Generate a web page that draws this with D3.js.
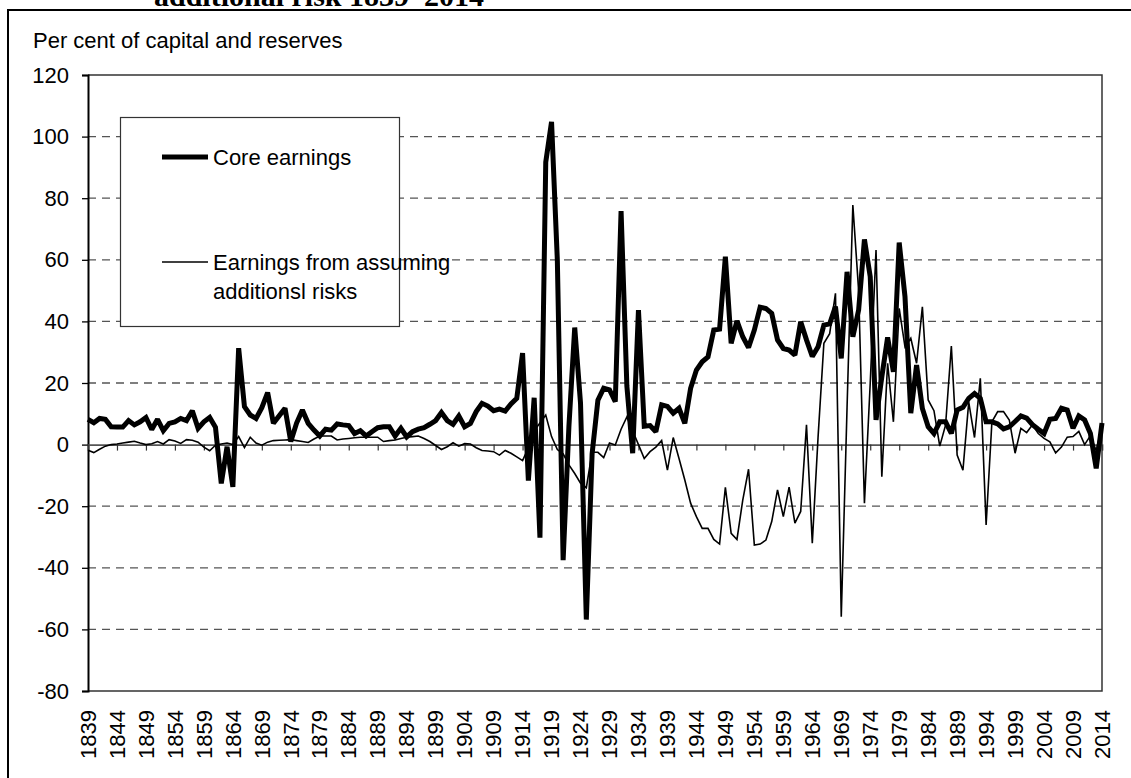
<!DOCTYPE html>
<html>
<head>
<meta charset="utf-8">
<script src="https://cdn.jsdelivr.net/npm/d3@7/dist/d3.min.js"></script>
<style>
  html, body { margin: 0; padding: 0; background: #fff; }
  svg { display: block; }
  text { font-family: "Liberation Sans", Arial, sans-serif; fill: #000; }
</style>
</head>
<body>
<svg id="chart" width="1131" height="778"></svg>
<script>
// ---- Data ----
const firstYear = 1839;
const lastYear = 2014;
const years = d3.range(firstYear, lastYear + 1);

// Core earnings, per cent of capital and reserves (1839 ... 2014)
const coreEarnings = [
  8.2, 7.1, 8.5, 8.2, 5.8, 5.7, 5.7, 7.8, 6.4, 7.4,        // 1839-1848
  8.8, 4.9, 8.2, 4.5, 6.9, 7.4, 8.5, 7.8, 11.0, 5.3,       // 1849-1858
  7.4, 8.8, 5.6, -12.6, -0.7, -13.7, 31.3, 12.3, 9.6, 8.5, // 1859-1868
  12.0, 16.9, 6.9, 9.4, 11.8, 1.0, 7.0, 11.2, 6.9, 4.7,    // 1869-1878
  2.8, 5.0, 4.7, 6.7, 6.4, 6.2, 3.6, 4.5, 2.8, 4.2,        // 1879-1888
  5.5, 5.8, 5.8, 2.8, 5.3, 2.5, 4.2, 5.0, 5.5, 6.6,        // 1889-1898
  7.8, 10.4, 7.8, 6.6, 9.3, 5.8, 6.9, 10.7, 13.4, 12.5,    // 1899-1908
  11.0, 11.5, 10.9, 13.2, 15.0, 29.7, -11.7, 15.2, -30.2, 91.7, // 1909-1918
  104.8, 59.9, -37.5, 6.0, 38.0, 13.5, -56.8, -3.0, 14.4, 18.3, // 1919-1928
  17.8, 13.9, 75.8, 19.0, -2.8, 43.7, 6.0, 6.2, 4.2, 12.9, // 1929-1938
  12.4, 10.2, 11.8, 6.9, 18.3, 24.2, 26.9, 28.5, 37.2, 37.5, // 1939-1948
  61.0, 32.9, 40.2, 35.0, 31.5, 37.2, 44.6, 44.2, 42.6, 34.0, // 1949-1958
  31.2, 30.7, 29.1, 39.9, 34.0, 28.6, 31.8, 38.8, 39.2, 44.8, // 1959-1968
  28.0, 56.1, 35.0, 43.7, 66.6, 54.5, 8.0, 22.0, 34.8, 23.6,  // 1969-1978
  65.6, 48.0, 10.2, 25.8, 11.7, 5.8, 3.6, 7.4, 7.4, 3.6,   // 1979-1988
  11.2, 12.1, 15.0, 16.6, 15.0, 7.4, 7.4, 6.7, 5.1, 5.8,   // 1989-1998
  7.5, 9.3, 8.6, 6.5, 5.0, 3.6, 8.2, 8.5, 11.8, 11.2,      // 1999-2008
  5.3, 9.3, 8.0, 3.6, -7.7, 7.0                            // 2009-2014
];

// Earnings from assuming additional risks (1839 ... 2014)
const riskEarnings = [
  -1.8, -2.6, -1.5, -0.5, 0.0, 0.2, 0.5, 0.8, 1.1, 0.5,    // 1839-1848
  0.0, 0.3, 1.0, 0.2, 1.6, 1.2, 0.4, 1.6, 1.4, 0.8,        // 1849-1858
  -0.8, -2.0, -0.2, 0.2, 0.5, 0.0, 2.6, -1.0, 2.4, 0.5,    // 1859-1868
  -0.2, 0.8, 1.3, 1.4, 1.5, 1.6, 1.3, 1.0, 0.7, 1.8,       // 1869-1878
  2.8, 2.8, 2.8, 1.5, 1.8, 2.0, 2.2, 2.4, 2.4, 2.4,        // 1879-1888
  2.4, 1.0, 1.3, 1.5, 2.0, 2.4, 2.6, 2.8, 2.0, 1.0,        // 1889-1898
  -0.3, -1.6, -0.7, 0.6, -0.5, 0.3, 0.2, -1.0, -1.9, -2.1, // 1899-1908
  -2.3, -3.4, -1.9, -2.8, -4.0, -5.2, -1.0, 4.5, 7.0, 9.6, // 1909-1918
  2.6, -1.6, -3.0, -6.6, -9.4, -12.5, -14.0, -2.5, -2.5, -4.2, // 1919-1928
  0.5, -0.1, 5.0, 9.0, 4.5, 0.0, -4.5, -2.3, -0.8, 1.3,    // 1929-1938
  -8.3, 2.3, -4.5, -11.5, -19.0, -23.4, -27.2, -27.2, -30.8, -32.3, // 1939-1948
  -13.9, -28.8, -30.8, -18.0, -8.0, -32.6, -32.3, -31.0, -25.0, -14.7, // 1949-1958
  -23.4, -13.8, -25.5, -21.7, 6.4, -32.0, 2.5, 32.9, 36.0, 49.1, // 1959-1968
  -55.9, 12.0, 77.8, 50.0, -19.0, 20.0, 63.2, -10.4, 26.4, 7.4, // 1969-1978
  44.2, 31.7, 34.5, 26.4, 44.7, 14.5, 11.0, -0.5, 6.3, 32.0, // 1979-1988
  -3.4, -8.3, 13.8, 2.3, 21.5, -26.1, 7.4, 10.7, 10.7, 8.0, // 1989-1998
  -2.8, 5.3, 3.9, 6.4, 3.6, 2.0, 0.9, -2.7, -0.8, 2.4,     // 1999-2008
  2.6, 4.3, 0.0, 2.9, -2.0, 6.0                            // 2009-2014
];

const yTicks = [-80, -60, -40, -20, 0, 20, 40, 60, 80, 100, 120];
const gridValues = [-60, -40, -20, 20, 40, 60, 80, 100];
const xTickYears = d3.range(firstYear, lastYear + 1, 5);

const titleText = "additional risk 1839\u20132014";
const yAxisTitle = "Per cent of capital and reserves";
const legendCore = "Core earnings";
const legendRiskLines = ["Earnings from assuming", "additionsl risks"];

// ---- Layout ----
const W = 1131, H = 778;
const plot = { left: 88, right: 1102, top: 75, bottom: 691 };

const svg = d3.select("#chart");

const x = d3.scaleLinear().domain([firstYear, lastYear]).range([plot.left, plot.right]);
const y = d3.scaleLinear().domain([-80, 120]).range([plot.bottom, plot.top]);

// outer frame
svg.append("path")
  .attr("d", `M8,${H + 5} V10 H${W + 5}`)
  .attr("fill", "none").attr("stroke", "#000").attr("stroke-width", 2);

// title (cut off at top, as in the source)
svg.append("text")
  .attr("x", 154).attr("y", 6)
  .style("font-family", "'Liberation Serif', 'Times New Roman', serif")
  .style("font-weight", "bold")
  .style("font-size", "30px")
  .text(titleText);

// y axis title
svg.append("text")
  .attr("x", 33).attr("y", 48)
  .style("font-size", "22px")
  .text(yAxisTitle);

// gridlines
svg.append("g").selectAll("line")
  .data(gridValues).join("line")
  .attr("x1", plot.left).attr("x2", plot.right)
  .attr("y1", d => y(d)).attr("y2", d => y(d))
  .attr("stroke", "#555").attr("stroke-width", 1.3)
  .attr("stroke-dasharray", "8,6");

// plot frame (top, right, bottom)
svg.append("path")
  .attr("d", `M${plot.left},${plot.top} H${plot.right} V${plot.bottom} H${plot.left}`)
  .attr("fill", "none").attr("stroke", "#333").attr("stroke-width", 1.5);

// y axis with ticks
const yAxis = d3.axisLeft(y).tickValues(yTicks).tickSize(6).tickPadding(13)
  .tickFormat(d => String(d));
const gy = svg.append("g").attr("transform", `translate(${plot.left},0)`).call(yAxis);
gy.select(".domain").attr("stroke", "#000").attr("stroke-width", 2);
gy.selectAll(".tick line").attr("stroke", "#000").attr("stroke-width", 1.3);
gy.selectAll(".tick text")
  .style("font-size", "22px")
  .style("font-family", "'Liberation Sans', Arial, sans-serif")
  .attr("fill", "#000");

// zero line (category axis) with ticks
const xAxis = d3.axisBottom(x).tickValues(xTickYears).tickSize(6).tickFormat("");
const gx = svg.append("g").attr("transform", `translate(0,${y(0)})`).call(xAxis);
gx.select(".domain").attr("stroke", "#555").attr("stroke-width", 1.6);
gx.selectAll(".tick line").attr("stroke", "#333").attr("stroke-width", 1.2);

// x tick labels (rotated, below plot)
svg.append("g").selectAll("text")
  .data(xTickYears).join("text")
  .attr("transform", d => `translate(${x(d)},${plot.bottom + 19}) rotate(-90)`)
  .attr("text-anchor", "end")
  .attr("dy", "0.35em")
  .style("font-size", "22px")
  .text(d => String(d));

// lines
const lineGen = d3.line()
  .x((d, i) => x(years[i]))
  .y(d => y(d));

svg.append("path")
  .datum(riskEarnings)
  .attr("d", lineGen)
  .attr("fill", "none").attr("stroke", "#000").attr("stroke-width", 1.6)
  .attr("stroke-linejoin", "miter").attr("stroke-miterlimit", 3);

svg.append("path")
  .datum(coreEarnings)
  .attr("d", lineGen)
  .attr("fill", "none").attr("stroke", "#000").attr("stroke-width", 5)
  .attr("stroke-linejoin", "miter").attr("stroke-miterlimit", 2);

// legend
const lg = svg.append("g");
lg.append("rect")
  .attr("x", 120.5).attr("y", 117.5).attr("width", 279).attr("height", 209)
  .attr("fill", "#fff").attr("stroke", "#333").attr("stroke-width", 1.2);
lg.append("line")
  .attr("x1", 162).attr("x2", 208).attr("y1", 157).attr("y2", 157)
  .attr("stroke", "#000").attr("stroke-width", 5);
lg.append("text")
  .attr("x", 213).attr("y", 157).attr("dy", "0.35em")
  .style("font-size", "22px").text(legendCore);
lg.append("line")
  .attr("x1", 162).attr("x2", 208).attr("y1", 262).attr("y2", 262)
  .attr("stroke", "#000").attr("stroke-width", 1.6);
lg.selectAll("text.risk")
  .data(legendRiskLines).join("text")
  .attr("class", "risk")
  .attr("x", 213).attr("y", (d, i) => 262 + i * 29).attr("dy", "0.35em")
  .style("font-size", "22px").text(d => d);
</script>
</body>
</html>
